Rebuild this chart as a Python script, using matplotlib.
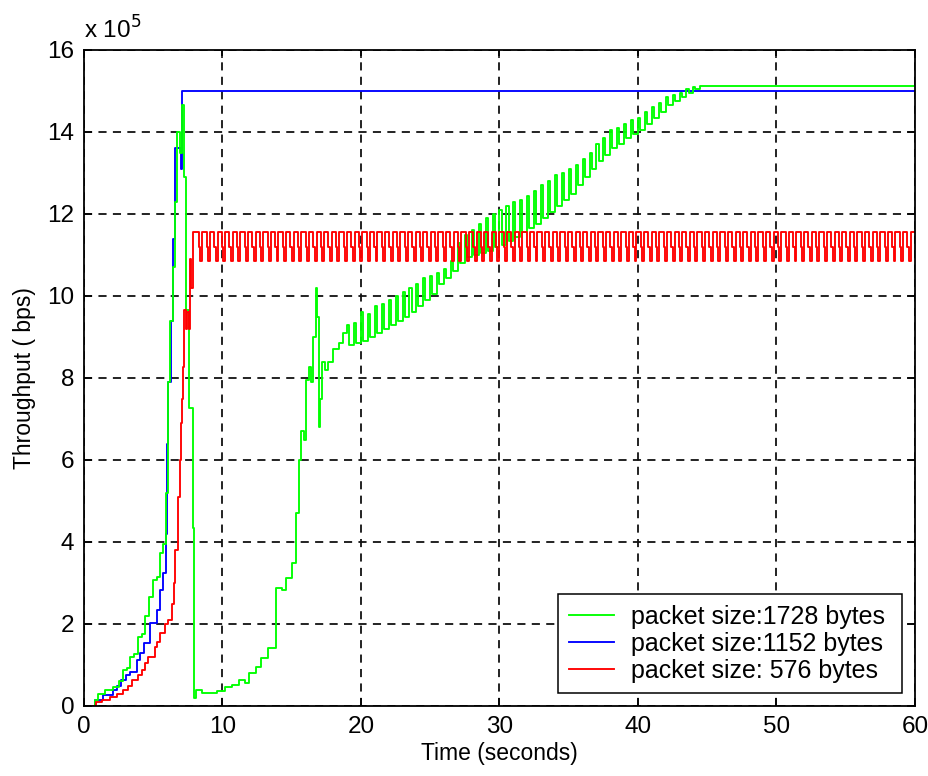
import numpy as np
import matplotlib.pyplot as plt
from matplotlib.lines import Line2D

# throughput in units of 1e5 bps, time in seconds (stairs)
green_t = [0.6, 0.8, 1.0, 1.5, 2.1, 2.5, 2.8, 3.1, 3.3, 3.6, 3.9, 4.2, 4.4, 4.7, 5.0, 5.3,
           5.5, 5.7, 5.9, 5.95, 6.05, 6.2, 6.4, 6.55, 6.7, 6.95, 7.05, 7.2, 7.4, 7.6, 7.85,
           7.95, 8.1, 8.5, 9.6, 10.2, 10.7, 11.2, 11.6, 11.9, 12.4, 12.8, 13.3, 13.85, 14.3,
           14.6, 15.0, 15.3, 15.5, 15.7, 15.9, 16.05, 16.25, 16.4, 16.5, 16.75, 16.85, 16.95,
           17.05, 17.2, 17.4, 17.6, 18.0, 18.4, 18.7]
green_y = [0.0, 0.15, 0.30, 0.38, 0.46, 0.60, 0.88, 0.92, 1.20, 1.28, 1.68, 1.75, 2.20, 2.65,
           3.07, 3.15, 3.73, 3.95, 4.20, 5.2, 7.9, 9.4, 10.7, 12.3, 14.0, 13.5, 14.66, 12.9,
           9.66, 7.27, 4.34, 0.2, 0.39, 0.32, 0.36, 0.46, 0.52, 0.63, 0.55, 0.80, 0.96, 1.17,
           1.41, 2.88, 2.83, 3.12, 3.50, 4.70, 6.00, 6.70, 6.50, 7.95, 8.27, 7.9, 9.0, 10.2,
           9.5, 6.8, 7.5, 8.4, 8.2, 8.4, 8.7, 8.85, 9.1]
# sawtooth part of the green trace, one tooth every 0.5 s from 19 s to 44 s
green_tooth_start = 19.0
green_tooth_step = 0.5
green_tooth_high = [9.3, 9.35, 9.6, 9.55, 9.75, 9.8, 9.9, 10.0, 10.1, 10.2, 10.3, 10.45, 10.5,
                    10.55, 10.65, 10.85, 11.3, 11.5, 11.6, 11.75, 11.9, 12.0, 12.1, 12.2, 12.3,
                    12.35, 12.45, 12.55, 12.7, 12.8, 12.95, 13.0, 13.1, 13.2, 13.35, 13.5, 13.7,
                    13.85, 14.05, 14.1, 14.2, 14.3, 14.35, 14.5, 14.6, 14.7, 14.85, 14.9, 14.95,
                    15.05, 15.1]
green_tooth_low = [8.8, 8.85, 8.9, 9.0, 9.1, 9.2, 9.3, 9.4, 9.5, 9.6, 9.75, 9.9, 10.05, 10.3,
                   10.45, 10.6, 10.8, 10.95, 11.0, 11.05, 11.1, 11.2, 11.25, 11.35, 11.45, 11.55,
                   11.65, 11.75, 11.9, 12.05, 12.2, 12.35, 12.5, 12.7, 12.9, 13.1, 13.3, 13.45,
                   13.6, 13.7, 13.85, 13.95, 14.05, 14.2, 14.35, 14.5, 14.65, 14.75, 14.85, 14.95,
                   15.05]
green_final = 15.12
green_final_t = 44.5

blue_t = [0.7, 0.8, 1.4, 2.1, 2.4, 2.7, 3.0, 3.3, 3.8, 4.05, 4.3, 4.8, 5.25, 5.5, 5.7, 5.9,
          6.0, 6.1, 6.25, 6.4, 6.6, 7.0, 7.1, 60.0]
blue_y = [0.0, 0.15, 0.27, 0.39, 0.5, 0.63, 0.75, 0.83, 1.12, 1.3, 1.53, 2.02, 2.34, 2.83,
          3.24, 4.2, 6.4, 7.9, 9.4, 11.4, 13.6, 13.1, 15.0, 15.0]

red_t = [0.6, 0.9, 1.3, 1.9, 2.4, 2.8, 3.2, 3.5, 3.9, 4.2, 4.4, 4.6, 5.1, 5.3, 5.5, 5.85, 6.1,
         6.35, 6.5, 6.6, 6.8, 6.95, 7.0, 7.1, 7.15, 7.25, 7.35, 7.45, 7.55, 7.65, 7.75, 7.9]
red_y = [0.0, 0.1, 0.15, 0.22, 0.30, 0.39, 0.50, 0.63, 0.75, 0.88, 1.05, 1.20, 1.44, 1.55,
         1.78, 2.0, 2.1, 2.5, 3.0, 3.8, 5.1, 6.0, 6.9, 7.5, 8.27, 9.66, 9.2, 9.6, 9.2, 10.9,
         10.2, 11.56]
# comb-shaped plateau of the red trace: one cycle
red_cycle_start = 8.3
red_cycle_period = 0.55
red_cycle_offsets = [0.0, 0.1, 0.24]
red_cycle_levels = [11.2, 10.85, 11.56]

# build step series
gt = list(green_t)
gy = list(green_y)
for i, (hi, lo) in enumerate(zip(green_tooth_high, green_tooth_low)):
    t0 = green_tooth_start + i * green_tooth_step
    gt += [t0, t0 + 0.15]
    gy += [hi, lo]
gt += [green_final_t, 60.0]
gy += [green_final, green_final]

rt = list(red_t)
ry = list(red_y)
for t0 in np.arange(red_cycle_start, 60.0, red_cycle_period):
    for off, lev in zip(red_cycle_offsets, red_cycle_levels):
        rt.append(t0 + off)
        ry.append(lev)
rt.append(60.0)
ry.append(red_cycle_levels[-1])

plt.rcParams['font.family'] = ['Liberation Sans', 'DejaVu Sans']
plt.rcParams['font.size'] = 16.5

fig = plt.figure(figsize=(9.29, 7.76), dpi=100)
ax = fig.add_axes([84 / 929, 70 / 776, 831 / 929, 656 / 776])

lw = 1.35
ax.plot(blue_t, blue_y, color=(0, 0, 1), lw=lw, drawstyle='steps-post')
ax.plot(gt, gy, color=(0, 1, 0), lw=lw, drawstyle='steps-post')
ax.plot(rt, ry, color=(1, 0, 0), lw=lw, drawstyle='steps-post')

ax.set_xlim(0, 60)
ax.set_ylim(0, 16)
ax.set_xticks(np.arange(0, 61, 10))
ax.set_yticks(np.arange(0, 17, 2))
ax.grid(True, color='#111111', linestyle=(0, (4.5, 3.5)), linewidth=1.3)
ax.tick_params(direction='in', top=True, right=True, length=6, width=1.1, pad=7,
               labelsize=17.5)
for sp in ax.spines.values():
    sp.set_linewidth(1.3)

ax.text(0.0, 1.01, r'x 10$^5$', transform=ax.transAxes, ha='left', va='bottom',
        fontsize=17.5)
ax.set_xlabel('Time (seconds)', labelpad=3)
ax.set_ylabel('Throughput ( bps)', labelpad=8)

handles = [Line2D([], [], color=(0, 1, 0), lw=lw),
           Line2D([], [], color=(0, 0, 1), lw=lw),
           Line2D([], [], color=(1, 0, 0), lw=lw)]
labels = ['packet size:1728 bytes ', 'packet size:1152 bytes ', 'packet size: 576 bytes ']
leg = ax.legend(handles, labels, loc='lower right', bbox_to_anchor=(0.9844, 0.0198),
                fancybox=False, framealpha=1, edgecolor='black', borderpad=0.42,
                labelspacing=0.12, handlelength=1.8, handletextpad=0.68, borderaxespad=0,
                fontsize=18)
leg.get_frame().set_linewidth(1.1)

fig.savefig('out.png', dpi=100)
